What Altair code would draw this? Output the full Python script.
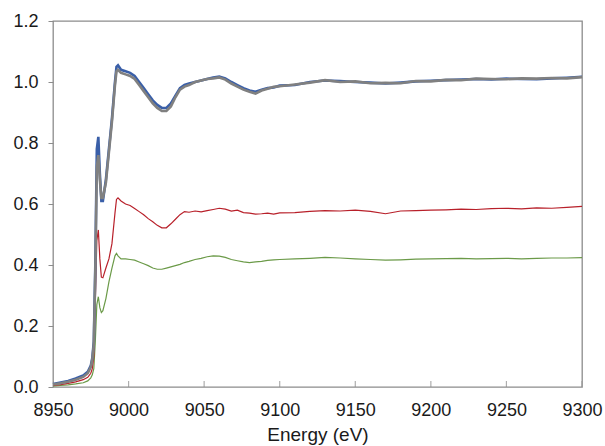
import altair as alt
import pandas as pd

energy = [8950, 8955, 8960, 8965, 8970, 8973, 8975, 8976, 8977, 8978, 8979, 8980, 8981, 8982, 8983,
          8985, 8987, 8989, 8991, 8992, 8993, 8995, 8998,
          9001, 9004, 9007, 9010, 9013, 9016, 9019, 9022, 9025, 9028, 9031, 9034, 9037, 9040,
          9044, 9048, 9052, 9056, 9060, 9064, 9068, 9072, 9076, 9080, 9084, 9088, 9092, 9096, 9100,
          9110, 9120, 9130, 9140, 9150, 9160, 9170, 9180, 9190, 9200, 9210, 9220, 9230, 9240, 9250,
          9260, 9270, 9280, 9290, 9300]

blue = [0.010, 0.015, 0.020, 0.028, 0.038, 0.050, 0.070, 0.095, 0.15, 0.40, 0.78, 0.82, 0.70, 0.61, 0.61,
        0.68, 0.78, 0.88, 1.00, 1.05, 1.055, 1.04, 1.035,
        1.03, 1.02, 1.00, 0.98, 0.96, 0.94, 0.925, 0.915, 0.915, 0.93, 0.955, 0.98, 0.99, 0.995,
        1.00, 1.005, 1.01, 1.015, 1.018, 1.012, 1.0, 0.99, 0.98, 0.972, 0.968, 0.975, 0.98, 0.982, 0.988,
        0.99, 1.0, 1.005, 1.003, 1.0, 0.998, 0.995, 0.998, 1.002, 1.004, 1.006, 1.008, 1.01, 1.008, 1.011,
        1.01, 1.009, 1.012, 1.014, 1.017]

gray = [0.008, 0.012, 0.017, 0.024, 0.033, 0.045, 0.065, 0.09, 0.14, 0.38, 0.72, 0.76, 0.68, 0.62, 0.62,
        0.67, 0.77, 0.87, 0.99, 1.035, 1.04, 1.03, 1.025,
        1.02, 1.01, 0.99, 0.97, 0.95, 0.93, 0.915, 0.905, 0.905, 0.92, 0.95, 0.975, 0.985, 0.99,
        1.0, 1.005, 1.01, 1.012, 1.015, 1.008, 0.995, 0.985, 0.975, 0.968, 0.962, 0.972, 0.978, 0.984, 0.986,
        0.992, 0.998, 1.006, 1.0, 1.002, 0.996, 0.997, 0.996, 1.003, 1.002, 1.007, 1.006, 1.011, 1.01, 1.009,
        1.012, 1.011, 1.013, 1.012, 1.016]

red = [0.005, 0.008, 0.012, 0.017, 0.024, 0.032, 0.045, 0.06, 0.10, 0.28, 0.48, 0.515, 0.42, 0.36, 0.358,
       0.39, 0.42, 0.47, 0.57, 0.615, 0.62, 0.61, 0.60,
       0.595, 0.585, 0.575, 0.565, 0.552, 0.542, 0.53, 0.522, 0.522, 0.535, 0.55, 0.565, 0.575, 0.573,
       0.577, 0.574, 0.578, 0.582, 0.586, 0.583, 0.577, 0.58, 0.572, 0.57, 0.567, 0.568, 0.57, 0.567, 0.571,
       0.572, 0.576, 0.578, 0.577, 0.58, 0.576, 0.568, 0.577, 0.578, 0.58, 0.581, 0.583, 0.582, 0.585, 0.586,
       0.584, 0.587, 0.586, 0.589, 0.592]

green = [0.003, 0.005, 0.007, 0.010, 0.014, 0.020, 0.030, 0.040, 0.06, 0.15, 0.27, 0.296, 0.26, 0.244, 0.25,
         0.29, 0.345, 0.39, 0.43, 0.438, 0.43, 0.42, 0.42,
         0.418, 0.416, 0.41, 0.404, 0.398, 0.39, 0.386, 0.386, 0.39, 0.394, 0.398, 0.402, 0.408, 0.412,
         0.418, 0.422, 0.427, 0.43, 0.429, 0.425, 0.418, 0.414, 0.41, 0.408, 0.41, 0.412, 0.415, 0.417, 0.418,
         0.42, 0.422, 0.425, 0.423, 0.42, 0.418, 0.416, 0.417, 0.419, 0.42, 0.421, 0.422, 0.42, 0.421, 0.422,
         0.42, 0.422, 0.423, 0.423, 0.424]

series_names = ["green", "red", "blue", "gray"]
series_colors = ["#6b9a48", "#b8202a", "#3a5fa8", "#808080"]
x_ticks = [8950, 9000, 9050, 9100, 9150, 9200, 9250, 9300]
y_ticks = [0.0, 0.2, 0.4, 0.6, 0.8, 1.0, 1.2]

rows = []
for name, vals in zip(series_names, [green, red, blue, gray]):
    for i, (e, v) in enumerate(zip(energy, vals)):
        rows.append({"E": e, "v": v, "s": name, "o": i})
df = pd.DataFrame(rows)
tick_df = pd.DataFrame({"E": x_ticks})

FONT = "Liberation Sans"
xscale = alt.Scale(domain=[8950, 9300], nice=False, zero=False)
yscale = alt.Scale(domain=[0, 1.2], nice=False)
cscale = alt.Scale(domain=series_names, range=series_colors)

x_enc = alt.X("E:Q", scale=xscale, axis=alt.Axis(
    values=x_ticks, format="d", title="Energy (eV)", domain=False, grid=False,
    ticks=False, tickSize=0, labelPadding=14, labelFlush=False,
    labelFont=FONT, labelFontSize=18, labelColor="#1a1a1a",
    titleFont=FONT, titleFontSize=19, titleFontWeight="normal", titleColor="#1a1a1a",
    titlePadding=6))

y_enc = alt.Y("v:Q", scale=yscale, axis=alt.Axis(
    values=y_ticks, format=".1f", title=None, domain=False, grid=False,
    ticks=True, tickSize=5, tickColor="#8c8c8c", labelPadding=10, labelFlush=False,
    labelFont=FONT, labelFontSize=18, labelColor="#1a1a1a"))

thin = alt.Chart(df).transform_filter(
    alt.FieldOneOfPredicate(field="s", oneOf=["green", "red"])
).mark_line(strokeWidth=1.2).encode(
    x=x_enc,
    y=y_enc,
    color=alt.Color("s:N", scale=cscale, legend=None),
    detail="s:N",
    order="o:Q",
)

thick = alt.Chart(df).transform_filter(
    alt.FieldOneOfPredicate(field="s", oneOf=["blue", "gray"])
).mark_line(strokeWidth=2.6).encode(
    x=x_enc,
    y=y_enc,
    color=alt.Color("s:N", scale=cscale, legend=None),
    detail="s:N",
    order="o:Q",
)

# inward x-axis tick marks (half of each tick is clipped away at the plot edge)
ticks = alt.Chart(tick_df).mark_tick(
    clip=True, size=12, thickness=1.2, color="#8c8c8c", orient="vertical"
).encode(
    x=alt.X("E:Q", scale=xscale),
    y=alt.datum(0),
)

chart = alt.layer(thin, thick, ticks).properties(
    width=529, height=366,
    padding={"left": 53, "top": 21, "right": 23, "bottom": 59},
    autosize=alt.AutoSizeParams(type="none"),
    background="white",
).configure_view(stroke="#8c8c8c", strokeWidth=1.3)

chart.save("out.html", embed_options={"renderer": "svg", "actions": False})
